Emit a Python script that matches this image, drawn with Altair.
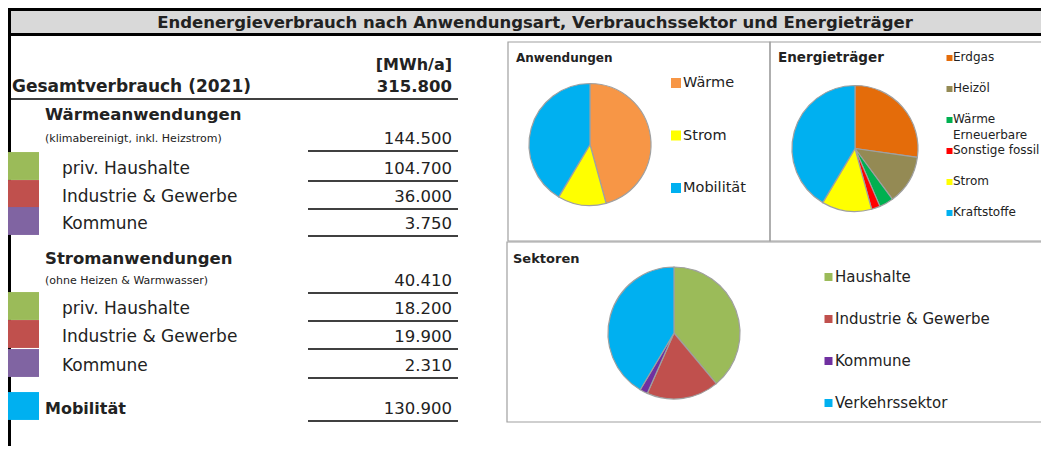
import altair as alt
import pandas as pd

# ---------------- data ----------------
TITLE = "Endenergieverbrauch nach Anwendungsart, Verbrauchssektor und Energieträger"
UNIT = "[MWh/a]"

TABLE_LABELS = ["Gesamtverbrauch (2021)", "Wärmeanwendungen", "(klimabereinigt, inkl. Heizstrom)",
                "priv. Haushalte", "Industrie & Gewerbe", "Kommune",
                "Stromanwendungen", "(ohne Heizen & Warmwasser)",
                "priv. Haushalte", "Industrie & Gewerbe", "Kommune", "Mobilität"]
TABLE_VALUES = [315800, None, 144500, 104700, 36000, 3750, None, 40410, 18200, 19900, 2310, 130900]
TABLE_KIND = ["total", "head", "sub", "item", "item", "item", "head", "sub", "item", "item", "item", "mobil"]
TABLE_SECTOR = ["", "", "", "Haushalte", "Industrie & Gewerbe", "Kommune", "", "",
                "Haushalte", "Industrie & Gewerbe", "Kommune", "Verkehrssektor"]

ANW_CATS = ["Wärme", "Strom", "Mobilität"]
ANW_VALUES = [144500, 40410, 130900]

ET_CATS = ["Erdgas", "Heizöl", "Wärme Erneuerbare", "Sonstige fossil", "Strom", "Kraftstoffe"]
ET_VALUES = [86000, 40000, 11500, 7000, 40410, 130900]

SEK_CATS = ["Haushalte", "Industrie & Gewerbe", "Kommune", "Verkehrssektor"]
SEK_VALUES = [122900, 55900, 6060, 130900]

# ---------------- styles ----------------
ANW_COLORS = ["#F79646", "#FFFF00", "#00B0F0"]
ET_COLORS = ["#E46C0A", "#948A54", "#00B050", "#FF0000", "#FFFF00", "#00B0F0"]
SEK_COLORS = ["#9BBB59", "#C0504D", "#7030A0", "#00B0F0"]
TABLE_SW_COLORS = ["#9BBB59", "#C0504D", "#8064A2", "#00B0F0"]

W, H = 1033, 438
FONT = "DejaVu Sans"
TXT = "#222222"
PANEL = "#A0A0A0"
SLICE_STROKE = "#A0A0A0"

one = pd.DataFrame({"k": [0]})


def box(x1, x2, y1, y2, fill, stroke, sw):
    return alt.Chart(one).mark_rect(fill=fill, stroke=stroke, strokeWidth=sw).encode(
        x=alt.value(x1), x2=alt.value(x2), y=alt.value(y1), y2=alt.value(y2))


def label(text, x, y, size, bold=False, align="left"):
    return alt.Chart(pd.DataFrame({"t": [text]})).mark_text(
        align=align, baseline="middle", font=FONT, fontSize=size,
        fontWeight="bold" if bold else "normal", color=TXT
    ).encode(x=alt.value(x), y=alt.value(y), text="t:N")


# ---------------- frame ----------------
layers = []
layers.append(box(0, 1040, 1.5, 26.5, "#D9D9D9", "#000000", 3))
layers.append(label(TITLE, 527, 15, 16.5, bold=True, align="center"))
layers.append(alt.Chart(one).mark_rule(color="#000000", strokeWidth=3).encode(
    x=alt.value(1.5), y=alt.value(0), y2=alt.value(H)))

# panels
layers.append(box(500, 762, 34, 233, "transparent", PANEL, 1.2))
layers.append(box(762, 1040, 34, 233, "transparent", PANEL, 1.2))
layers.append(box(499, 1040, 234, 414, "transparent", PANEL, 1.2))
layers.append(label("Anwendungen", 508, 50, 12, bold=True))
layers.append(label("Energieträger", 770, 50, 13.5, bold=True))
layers.append(label("Sektoren", 505, 251, 13, bold=True))

# ---------------- table ----------------
n = len(TABLE_LABELS)
tbl = pd.DataFrame({
    "row": list(range(n)),
    "label": TABLE_LABELS,
    "kind": TABLE_KIND,
    "vtext": ["" if v is None else f"{v:,}".replace(",", ".") for v in TABLE_VALUES],
    "sector": TABLE_SECTOR,
})
ROW_Y = [79, 107, 131, 161, 189, 216, 251, 273, 301, 329, 358, 401]
yrow = alt.Y("row:Q", scale=alt.Scale(domain=list(range(n)), range=ROW_Y, zero=False, nice=False), axis=None)

base = alt.Chart(tbl)
label_styles = {
    "total": (4, 17, "bold"),
    "head": (37, 16.5, "bold"),
    "sub": (37, 11, "normal"),
    "item": (54, 17, "normal"),
    "mobil": (37, 16, "bold"),
}
for kind, (x, fs, fw) in label_styles.items():
    layers.append(base.transform_filter(alt.datum.kind == kind).mark_text(
        align="left", baseline="middle", font=FONT, fontSize=fs, fontWeight=fw, color=TXT
    ).encode(x=alt.value(x), y=yrow, text="label:N"))

layers.append(label(UNIT, 444, 57, 16, bold=True, align="right"))
layers.append(base.transform_filter(alt.datum.kind == "total").mark_text(
    align="right", baseline="middle", font=FONT, fontSize=16.5, fontWeight="bold", color=TXT
).encode(x=alt.value(444), y=yrow, text="vtext:N"))
layers.append(base.transform_filter((alt.datum.vtext != "") & (alt.datum.kind != "total")).mark_text(
    align="right", baseline="middle", font=FONT, fontSize=16.5, color=TXT
).encode(x=alt.value(444), y=yrow, text="vtext:N"))

# underlines
layers.append(base.transform_filter((alt.datum.vtext != "") & (alt.datum.kind != "total")).mark_rule(
    color="#000000", strokeWidth=1.4, yOffset=12
).encode(x=alt.value(300), x2=alt.value(450), y=yrow))
layers.append(base.transform_filter(alt.datum.kind == "total").mark_rule(
    color="#000000", strokeWidth=1.4, yOffset=12
).encode(x=alt.value(0), x2=alt.value(450), y=yrow))

# colour swatches
layers.append(base.transform_filter(alt.datum.sector != "").mark_point(
    shape="M-1,-0.9L1,-0.9L1,0.9L-1,0.9Z", filled=True, size=961, opacity=1, strokeWidth=0, yOffset=-3
).encode(x=alt.value(15.5), y=yrow,
         color=alt.Color("sector:N", scale=alt.Scale(domain=SEK_CATS, range=TABLE_SW_COLORS), legend=None)))


# ---------------- pies ----------------
def pie(cats, vals, colors, cx, cy, r):
    df = pd.DataFrame({"cat": cats, "v": vals, "i": list(range(len(cats)))})
    return alt.Chart(df).mark_arc(outerRadius=r, stroke=SLICE_STROKE, strokeWidth=1.2).encode(
        theta=alt.Theta("v:Q", stack=True),
        color=alt.Color("cat:N", scale=alt.Scale(domain=cats, range=colors), legend=None),
        order=alt.Order("i:Q"),
        x=alt.value(cx), y=alt.value(cy))


def legend(cats, colors, x_sw, x_txt, y0, y1, sw, fs, line_h=None):
    labs = [c.replace("Wärme ", "Wärme\n") for c in cats]
    df = pd.DataFrame({"cat": cats, "lab": labs, "i": list(range(len(cats)))})
    ys = alt.Y("i:Q", scale=alt.Scale(domain=[0, len(cats) - 1], range=[y0, y1], zero=False, nice=False),
               axis=None)
    col = alt.Color("cat:N", scale=alt.Scale(domain=cats, range=colors), legend=None)
    s = alt.Chart(df).mark_point(shape="square", filled=True, size=sw * sw, opacity=1, strokeWidth=0).encode(
        x=alt.value(x_sw), y=ys, color=col)
    t = alt.Chart(df).mark_text(
        align="left", baseline="top", dy=-round(0.49 * fs), lineBreak="\n", lineHeight=line_h or fs * 1.2,
        font=FONT, fontSize=fs, color=TXT
    ).encode(x=alt.value(x_txt), y=ys, text="lab:N")
    return [s, t]


layers.append(pie(ANW_CATS, ANW_VALUES, ANW_COLORS, 582, 136.5, 61))
layers += legend(ANW_CATS, ANW_COLORS, 668, 675, 75, 180, 10, 14.5)

layers.append(pie(ET_CATS, ET_VALUES, ET_COLORS, 847, 140.5, 63))
layers += legend(ET_CATS, ET_COLORS, 941.5, 945, 50, 205, 6, 12, line_h=16)

layers.append(pie(SEK_CATS, SEK_VALUES, SEK_COLORS, 666, 325, 66))
layers += legend(SEK_CATS, SEK_COLORS, 820.5, 827, 269, 395, 8, 15)

chart = alt.layer(*layers).resolve_scale(
    y="independent", color="independent", theta="independent"
).properties(
    width=W, height=H, autosize=alt.AutoSizeParams(type="none"), padding=0, background="white"
).configure_view(stroke=None)

chart.save("out.html", embed_options={"renderer": "svg", "actions": False})
